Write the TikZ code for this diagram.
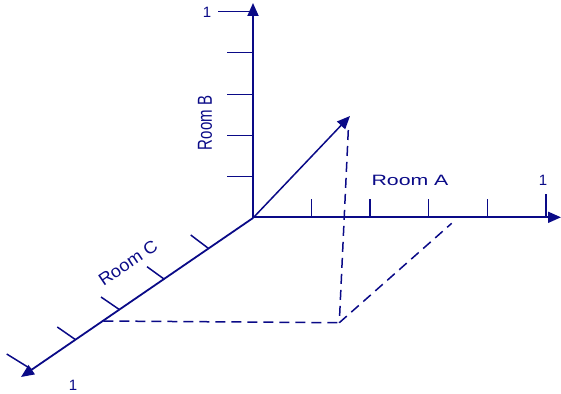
\documentclass[tikz,border=0pt]{standalone}
\usepackage{fontspec}
\setmainfont{Liberation Sans}
\usetikzlibrary{arrows.meta}
\definecolor{ax}{RGB}{10,10,135}
\tikzset{
  axisline/.style={ax, line width=1.8pt, -{Triangle[length=13pt,width=11pt]}},
  tickline/.style={ax, line width=1.5pt},
  dashline/.style={ax, line width=1.5pt, dash pattern=on 10pt off 6pt},
  lbl/.style={text=ax, font=\fontsize{15}{17}\selectfont, inner sep=0pt},
}
\begin{document}
\begin{tikzpicture}[x=1pt,y=-1pt]
\useasboundingbox (0,0) rectangle (561,393);
% key points
\coordinate (O) at (253,218);
\coordinate (Btip) at (253,3);
\coordinate (Atip) at (561,217.3);
\coordinate (Ctip) at (21,377);
\coordinate (V) at (350,116);
\coordinate (P) at (339.3,322.7);
\coordinate (Ptop) at (348.3,130);
\coordinate (Pc) at (103.3,321);
\coordinate (Pa) at (451.7,223.3);
% axes
\draw[axisline] (O) -- (Btip);
\draw[axisline] (253,217.3) -- (Atip);
\draw[axisline] (O) -- (Ctip);
\draw[axisline, line width=1.5pt] (O) -- (V);
% ticks on Room B axis
\foreach \y in {52.7,94.3,135.3,176.7}{
  \coordinate (b1) at (227,\y); \coordinate (b2) at (253,\y);
  \draw[tickline] (b1) -- (b2);
}
\coordinate (bt1) at (218,11.5); \coordinate (bt2) at (253,11.5);
\draw[tickline] (bt1) -- (bt2);
% ticks on Room A axis
\foreach \x in {311.7,370,428.7,487.7}{
  \coordinate (a1) at (\x,217.3); \coordinate (a2) at (\x,199.3);
  \draw[tickline] (a1) -- (a2);
}
\coordinate (at1) at (546,217.3); \coordinate (at2) at (546,194);
\draw[tickline] (at1) -- (at2);
% ticks on Room C axis
\coordinate (c11) at (208.3,248.3); \coordinate (c12) at (190.7,235);
\coordinate (c21) at (164,279);     \coordinate (c22) at (147,266.7);
\coordinate (c31) at (119,309.3);   \coordinate (c32) at (101,297);
\coordinate (c41) at (75,339.3);    \coordinate (c42) at (57.3,327);
\coordinate (c51) at (31,369);      \coordinate (c52) at (6.7,354);
\draw[tickline] (c11) -- (c12);
\draw[tickline] (c21) -- (c22);
\draw[tickline] (c31) -- (c32);
\draw[tickline] (c41) -- (c42);
\draw[tickline] (c51) -- (c52);
% dashed projections
\draw[dashline] (Ptop) -- (P);
\draw[dashline] (Pc) -- (P);
\draw[dashline] (P) -- (Pa);
% labels
\node[lbl] (oneB) at (207,12) {1};
\node[lbl] (oneA) at (543,180) {1};
\node[lbl] (oneC) at (73,385) {1};
\node[lbl] (roomA) at (410,180) {\scalebox{1.42}[1]{Room A}};
\node[lbl, rotate=90] (roomB) at (205,123) {\scalebox{1}[1.35]{Room B}};
\node[lbl, rotate=34] (roomC) at (128,263) {\scalebox{1.22}[1.15]{Room C}};
\end{tikzpicture}
\end{document}
